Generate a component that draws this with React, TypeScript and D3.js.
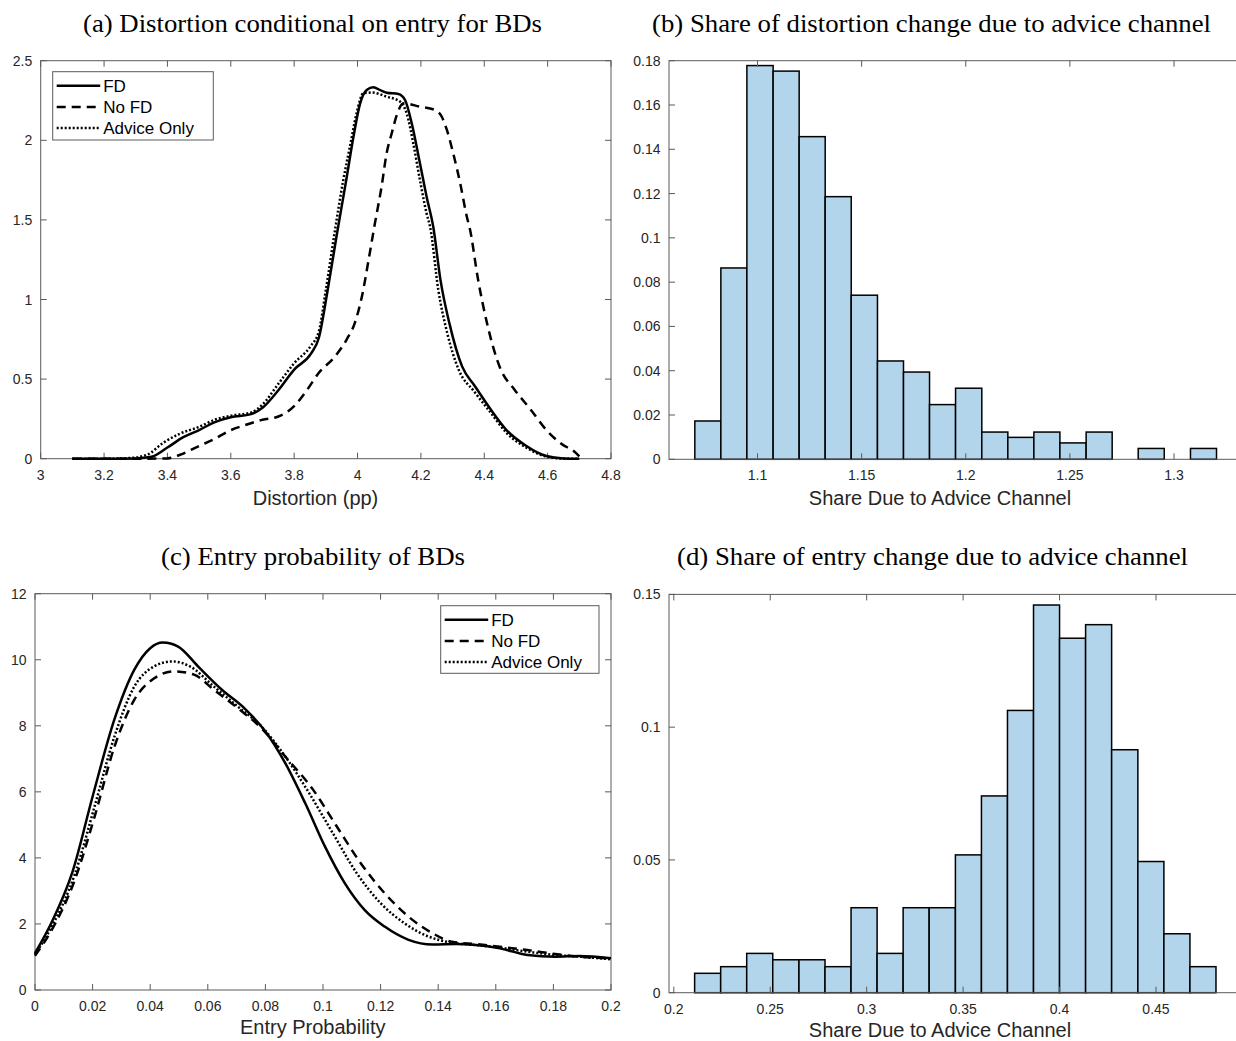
import React from "react";
import * as d3 from "d3";

type Pt = [number, number];

// ---------- Panel (a): Distortion conditional on entry for BDs ----------
const distortionFD: Pt[] = [
  [3.10, 0], [3.20, 0], [3.30, 0.002], [3.35, 0.012], [3.40, 0.07], [3.45, 0.135], [3.50, 0.18],
  [3.55, 0.23], [3.60, 0.26], [3.664, 0.28], [3.70, 0.32], [3.75, 0.43], [3.80, 0.56],
  [3.853, 0.66], [3.878, 0.76], [3.905, 1.05], [3.934, 1.40], [3.966, 1.77], [3.987, 2.02],
  [4.008, 2.23], [4.029, 2.316], [4.05, 2.333], [4.072, 2.315], [4.092, 2.299], [4.129, 2.291],
  [4.15, 2.253], [4.171, 2.107], [4.197, 1.856], [4.218, 1.646], [4.239, 1.457], [4.262, 1.12],
  [4.29, 0.85], [4.33, 0.58], [4.369, 0.46], [4.42, 0.31], [4.47, 0.18], [4.533, 0.08],
  [4.596, 0.017], [4.65, 0.002], [4.70, 0],
];
const distortionNoFD: Pt[] = [
  [3.10, 0], [3.30, 0], [3.40, 0.002], [3.44, 0.025], [3.50, 0.08], [3.55, 0.125], [3.59, 0.17],
  [3.651, 0.215], [3.70, 0.245], [3.75, 0.265], [3.80, 0.33], [3.84, 0.43], [3.878, 0.54],
  [3.928, 0.64], [3.966, 0.75], [3.991, 0.85], [4.016, 1.04], [4.035, 1.25], [4.055, 1.48],
  [4.076, 1.71], [4.092, 1.92], [4.108, 2.044], [4.124, 2.159], [4.145, 2.232], [4.197, 2.211],
  [4.245, 2.19], [4.266, 2.148], [4.282, 2.065], [4.302, 1.918], [4.324, 1.73], [4.345, 1.52],
  [4.355, 1.44], [4.38, 1.13], [4.41, 0.84], [4.45, 0.57], [4.495, 0.435], [4.546, 0.31],
  [4.596, 0.18], [4.646, 0.09], [4.684, 0.045], [4.70, 0.015],
];
const distortionAdvice: Pt[] = [
  [3.10, 0], [3.20, 0], [3.28, 0.004], [3.336, 0.025], [3.387, 0.10], [3.437, 0.155], [3.50, 0.20],
  [3.55, 0.245], [3.60, 0.27], [3.664, 0.29], [3.70, 0.34], [3.75, 0.47], [3.80, 0.60],
  [3.853, 0.71], [3.878, 0.80], [3.90, 1.06], [3.93, 1.45], [3.955, 1.75], [3.976, 1.96],
  [3.997, 2.17], [4.018, 2.295], [4.045, 2.30], [4.092, 2.274], [4.134, 2.243], [4.155, 2.17],
  [4.176, 1.98], [4.197, 1.75], [4.218, 1.54], [4.229, 1.457], [4.255, 1.06], [4.283, 0.79],
  [4.319, 0.56], [4.369, 0.42], [4.42, 0.29], [4.47, 0.163], [4.533, 0.069], [4.596, 0.013],
  [4.65, 0.001], [4.70, 0],
];
const distortionXTicks = [3, 3.2, 3.4, 3.6, 3.8, 4, 4.2, 4.4, 4.6, 4.8];
const distortionYTicks = [0, 0.5, 1, 1.5, 2, 2.5];

// ---------- Panel (b): Share of distortion change due to advice channel ----------
const shareDistEdges = [
  1.0699, 1.0824, 1.0949, 1.1075, 1.1200, 1.1325, 1.1450, 1.1576, 1.1701, 1.1826, 1.1951,
  1.2077, 1.2202, 1.2327, 1.2452, 1.2578, 1.2703, 1.2828, 1.2953, 1.3079, 1.3204,
];
const shareDistValues = [
  0.0173, 0.0864, 0.1778, 0.1753, 0.1457, 0.1186, 0.0741, 0.0444, 0.0394, 0.0247,
  0.0321, 0.0123, 0.0099, 0.0123, 0.0074, 0.0123, 0, 0.0049, 0, 0.0049,
];
const shareDistXTicks = [1.1, 1.15, 1.2, 1.25, 1.3];
const shareDistYTicks = [0, 0.02, 0.04, 0.06, 0.08, 0.1, 0.12, 0.14, 0.16, 0.18];

// ---------- Panel (c): Entry probability of BDs ----------
const entryFD: Pt[] = [
  [0, 1.12], [0.0055, 2.0], [0.0131, 3.6], [0.02, 5.86], [0.0276, 8.2], [0.0345, 9.7],
  [0.04, 10.35], [0.0444, 10.52], [0.0497, 10.4], [0.0566, 9.8], [0.0648, 9.1], [0.0731, 8.5],
  [0.08, 7.83], [0.0869, 6.87], [0.0938, 5.66], [0.1007, 4.34], [0.1076, 3.23], [0.1145, 2.42],
  [0.1214, 1.92], [0.1297, 1.52], [0.138, 1.38], [0.1462, 1.39], [0.1531, 1.36], [0.1614, 1.26],
  [0.171, 1.06], [0.1807, 1.01], [0.189, 1.03], [0.2, 0.96],
];
const entryNoFD: Pt[] = [
  [0, 1.04], [0.0055, 1.77], [0.0138, 3.33], [0.0207, 5.25], [0.0276, 7.37], [0.0345, 8.79],
  [0.0414, 9.44], [0.0483, 9.65], [0.0552, 9.55], [0.0621, 9.09], [0.0703, 8.54], [0.0786, 7.93],
  [0.0869, 7.07], [0.0966, 6.06], [0.1048, 4.95], [0.1131, 3.84], [0.1214, 2.93], [0.1297, 2.22],
  [0.138, 1.72], [0.1448, 1.46], [0.1531, 1.39], [0.1614, 1.31], [0.171, 1.21], [0.1807, 1.09],
  [0.189, 1.01], [0.2, 0.96],
];
const entryAdvice: Pt[] = [
  [0, 1.08], [0.0055, 1.87], [0.0138, 3.5], [0.0207, 5.56], [0.0276, 7.68], [0.0345, 9.19],
  [0.0414, 9.8], [0.0476, 9.95], [0.0538, 9.8], [0.0621, 9.19], [0.0703, 8.59], [0.0786, 7.98],
  [0.0869, 7.07], [0.0952, 5.96], [0.1034, 4.75], [0.1117, 3.54], [0.12, 2.63], [0.1283, 2.02],
  [0.1366, 1.62], [0.1448, 1.43], [0.1531, 1.36], [0.1614, 1.28], [0.171, 1.16], [0.1807, 1.06],
  [0.189, 1.01], [0.2, 0.93],
];
const entryXTicks = [0, 0.02, 0.04, 0.06, 0.08, 0.1, 0.12, 0.14, 0.16, 0.18, 0.2];
const entryYTicks = [0, 2, 4, 6, 8, 10, 12];

// ---------- Panel (d): Share of entry change due to advice channel ----------
const shareEntryEdges = [
  0.2108, 0.2243, 0.2378, 0.2513, 0.2649, 0.2784, 0.2919, 0.3054, 0.3189, 0.3324, 0.3460,
  0.3595, 0.3730, 0.3865, 0.4000, 0.4135, 0.4270, 0.4406, 0.4541, 0.4676, 0.4811,
];
const shareEntryValues = [
  0.0073, 0.0098, 0.0148, 0.0124, 0.0124, 0.0098, 0.0320, 0.0148, 0.0320, 0.0320,
  0.0519, 0.0741, 0.1063, 0.1460, 0.1335, 0.1386, 0.0915, 0.0494, 0.0222, 0.0098,
];
const shareEntryXTicks = [0.2, 0.25, 0.3, 0.35, 0.4, 0.45];
const shareEntryYTicks = [0, 0.05, 0.1, 0.15];

const seriesNames = ["FD", "No FD", "Advice Only"];
const titles = [
  "(a) Distortion conditional on entry for BDs",
  "(b) Share of distortion change due to advice channel",
  "(c) Entry probability of BDs",
  "(d) Share of entry change due to advice channel",
];
const xLabels = ["Distortion (pp)", "Share Due to Advice Channel", "Entry Probability", "Share Due to Advice Channel"];

// ---------- styles ----------
const SANS = "'Liberation Sans', Arial, Helvetica, sans-serif";
const SERIF = "'Liberation Serif', 'Times New Roman', serif";
const AXIS_COLOR = "#5a5a5a";
const TEXT_COLOR = "#262626";
const TICK_FS = 14;
const LABEL_FS = 20;
const LEGEND_FS = 17;
const TITLE_FS = 26;
const TICK_LEN = 6;
const LINE_W = 2.5;
const lineStyles = [
  { dash: undefined as string | undefined },
  { dash: "9,6" },
  { dash: "2,2" },
];
const BAR_FILL = "#b3d5eb";

type Lin = d3.ScaleLinear<number, number>;

function Frame({ x, y, xTicks, yTicks }: { x: Lin; y: Lin; xTicks: number[]; yTicks: number[] }) {
  const [x0, x1] = x.range();
  const [yb, yt] = y.range();
  return (
    <g>
      <rect x={x0} y={yt} width={x1 - x0} height={yb - yt} fill="none" stroke={AXIS_COLOR} strokeWidth={1} />
      {xTicks.map((t) => (
        <g key={"x" + t}>
          <line x1={x(t)} x2={x(t)} y1={yb} y2={yb - TICK_LEN} stroke={AXIS_COLOR} strokeWidth={1} />
          <line x1={x(t)} x2={x(t)} y1={yt} y2={yt + TICK_LEN} stroke={AXIS_COLOR} strokeWidth={1} />
          <text x={x(t)} y={yb + 21} textAnchor="middle" fontFamily={SANS} fontSize={TICK_FS} fill={TEXT_COLOR}>
            {String(t)}
          </text>
        </g>
      ))}
      {yTicks.map((t) => (
        <g key={"y" + t}>
          <line x1={x0} x2={x0 + TICK_LEN} y1={y(t)} y2={y(t)} stroke={AXIS_COLOR} strokeWidth={1} />
          <line x1={x1} x2={x1 - TICK_LEN} y1={y(t)} y2={y(t)} stroke={AXIS_COLOR} strokeWidth={1} />
          <text x={x0 - 8.5} y={y(t) + 5} textAnchor="end" fontFamily={SANS} fontSize={TICK_FS} fill={TEXT_COLOR}>
            {String(t)}
          </text>
        </g>
      ))}
    </g>
  );
}

function Curves({ x, y, series }: { x: Lin; y: Lin; series: Pt[][] }) {
  const line = d3
    .line<Pt>()
    .x((d) => x(d[0]))
    .y((d) => y(d[1]))
    .curve(d3.curveMonotoneX);
  return (
    <g>
      {series.map((s, i) => (
        <path
          key={i}
          d={line(s) || ""}
          fill="none"
          stroke="#000"
          strokeWidth={LINE_W}
          strokeDasharray={lineStyles[i].dash}
          strokeLinejoin="round"
        />
      ))}
    </g>
  );
}

function Legend({ left, top, width, height }: { left: number; top: number; width: number; height: number }) {
  return (
    <g>
      <rect x={left} y={top} width={width} height={height} fill="#fff" stroke={AXIS_COLOR} strokeWidth={1} />
      {seriesNames.map((n, i) => {
        const cy = top + 14 + i * 21.2;
        return (
          <g key={n}>
            <line x1={left + 4} x2={left + 47.5} y1={cy} y2={cy} stroke="#000" strokeWidth={LINE_W} strokeDasharray={lineStyles[i].dash} />
            <text x={left + 50.5} y={cy + 6} fontFamily={SANS} fontSize={LEGEND_FS} fill="#000">
              {n}
            </text>
          </g>
        );
      })}
    </g>
  );
}

function Histogram({ x, y, edges, values }: { x: Lin; y: Lin; edges: number[]; values: number[] }) {
  return (
    <g>
      {values.map((v, i) => (
        <rect
          key={i}
          x={x(edges[i])}
          y={y(v)}
          width={x(edges[i + 1]) - x(edges[i])}
          height={y(0) - y(v)}
          fill={BAR_FILL}
          stroke={v === 0 ? "#8c8c8c" : "#000"}
          strokeWidth={1.5}
        />
      ))}
    </g>
  );
}

export default function App() {
  const xA = d3.scaleLinear().domain([3, 4.8]).range([40.7, 611]);
  const yA = d3.scaleLinear().domain([0, 2.5]).range([458.7, 60.7]);
  const xB = d3.scaleLinear().domain([1.0575, 1.336]).range([669, 1249]);
  const yB = d3.scaleLinear().domain([0, 0.18]).range([459.3, 60.7]);
  const xC = d3.scaleLinear().domain([0, 0.2]).range([35, 611]);
  const yC = d3.scaleLinear().domain([0, 12]).range([990, 593.7]);
  const xD = d3.scaleLinear().domain([0.19751, 0.49822]).range([669, 1249]);
  const yD = d3.scaleLinear().domain([0, 0.15]).range([992.7, 594.4]);

  const titlePos = [
    { cx: 312.5, y: 31.5, len: 459 },
    { cx: 931.5, y: 31.5, len: 559 },
    { cx: 313, y: 565, len: 304 },
    { cx: 932.5, y: 565, len: 511 },
  ];
  const labelPos = [
    { cx: 315.5, y: 505 },
    { cx: 940, y: 505 },
    { cx: 312.8, y: 1034 },
    { cx: 940, y: 1037 },
  ];

  return (
    <svg
      width={1236}
      height={1041}
      viewBox="0 0 1236 1041"
      style={{ position: "absolute", left: 0, top: 0, background: "#fff" }}
    >
      <rect x={0} y={0} width={1236} height={1041} fill="#fff" />
      {titles.map((t, i) => (
        <text
          key={t}
          x={titlePos[i].cx}
          y={titlePos[i].y}
          textAnchor="middle"
          fontFamily={SERIF}
          fontSize={TITLE_FS}
          fill="#000"
          textLength={titlePos[i].len}
          lengthAdjust="spacingAndGlyphs"
        >
          {t}
        </text>
      ))}
      {xLabels.map((t, i) => (
        <text key={i} x={labelPos[i].cx} y={labelPos[i].y} textAnchor="middle" fontFamily={SANS} fontSize={LABEL_FS} fill={TEXT_COLOR}>
          {t}
        </text>
      ))}

      {/* (a) */}
      <Frame x={xA} y={yA} xTicks={distortionXTicks} yTicks={distortionYTicks} />
      <Curves x={xA} y={yA} series={[distortionFD, distortionNoFD, distortionAdvice]} />
      <Legend left={52.7} top={71.7} width={160.6} height={68.3} />

      {/* (b) */}
      <Histogram x={xB} y={yB} edges={shareDistEdges} values={shareDistValues} />
      <Frame x={xB} y={yB} xTicks={shareDistXTicks} yTicks={shareDistYTicks} />

      {/* (c) */}
      <Frame x={xC} y={yC} xTicks={entryXTicks} yTicks={entryYTicks} />
      <Curves x={xC} y={yC} series={[entryFD, entryNoFD, entryAdvice]} />
      <Legend left={440.7} top={605.7} width={158.3} height={67.6} />

      {/* (d) */}
      <Histogram x={xD} y={yD} edges={shareEntryEdges} values={shareEntryValues} />
      <Frame x={xD} y={yD} xTicks={shareEntryXTicks} yTicks={shareEntryYTicks} />
    </svg>
  );
}
